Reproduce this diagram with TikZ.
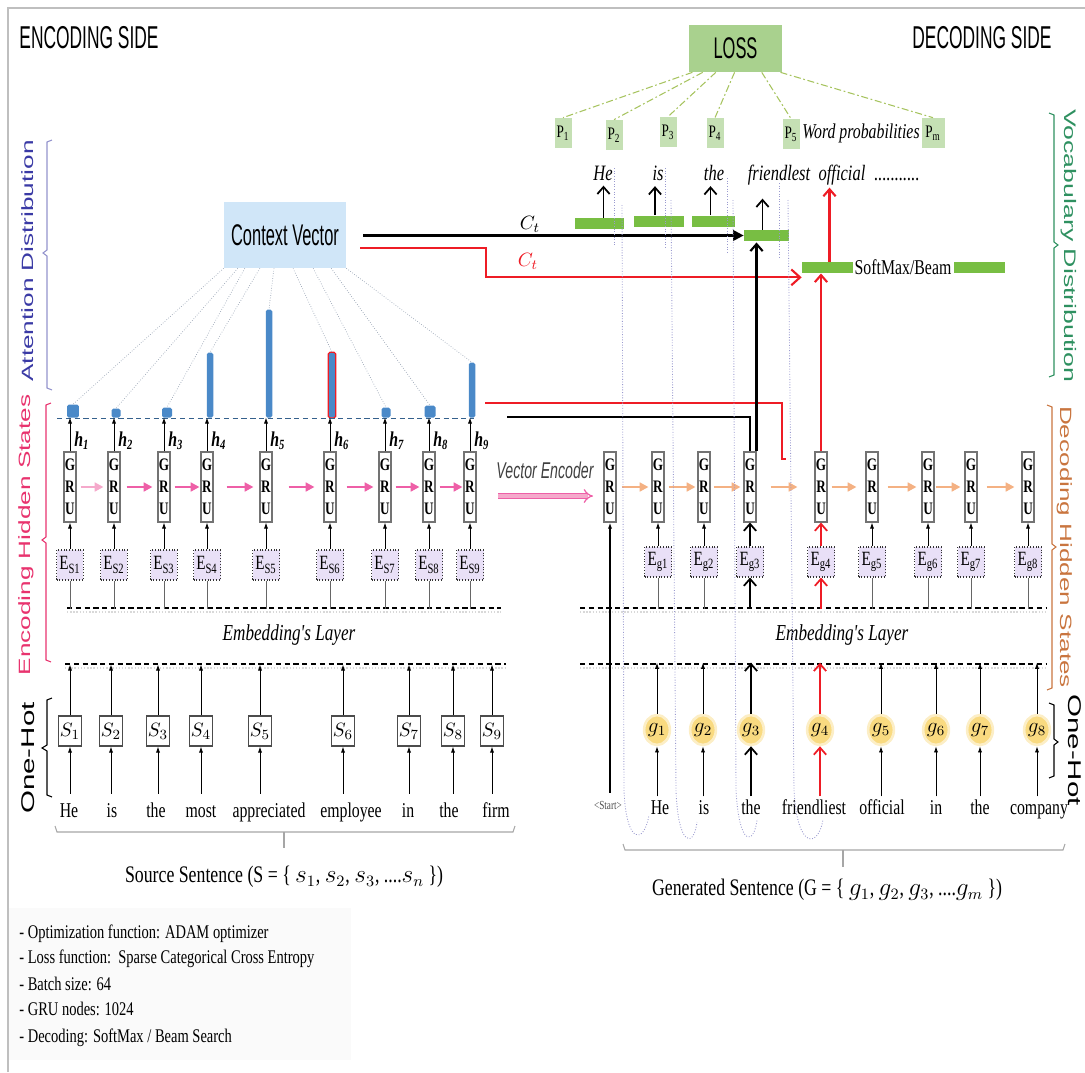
\documentclass[tikz,border=0pt]{standalone}
\usepackage{fontspec}
\setmainfont{Liberation Serif}
\newfontfamily\sr[FakeStretch=0.75]{Liberation Serif}
\newfontfamily\sn[FakeStretch=0.62]{Liberation Sans}
\newfontfamily\snc[FakeStretch=0.55]{Liberation Sans}
\newfontfamily\sw[FakeStretch=1.6]{Liberation Sans}
\usetikzlibrary{arrows.meta,shapes.geometric,calc}
\newcommand{\fsz}[1]{\fontsize{#1}{#1}\selectfont}

\definecolor{lossg}{HTML}{A9D18E}
\definecolor{pg}{HTML}{C5E0B4}
\definecolor{barg}{HTML}{78BE43}
\definecolor{cvb}{HTML}{D0E6F8}
\definecolor{attb}{HTML}{4A89C8}
\definecolor{eboxc}{HTML}{E9E0F7}
\definecolor{gy}{HTML}{F9DA80}
\definecolor{pinkA}{HTML}{EE5FA7}
\definecolor{pinkL}{HTML}{F5A9CB}
\definecolor{orA}{HTML}{F4B183}
\definecolor{lossc}{HTML}{A6C35E}
\definecolor{loopc}{HTML}{9A9ACF}
\definecolor{fanc}{HTML}{9AA5B5}
\definecolor{attT}{HTML}{3A3AA5}
\definecolor{encT}{HTML}{E8336E}
\definecolor{decT}{HTML}{C9753F}
\definecolor{vocT}{HTML}{2E9060}
\definecolor{redA}{HTML}{EE1C25}

\begin{document}
\begin{tikzpicture}[x=0.02cm,y=-0.02cm,
  every node/.style={inner sep=0pt},
  gru/.style={draw=black!55,line width=0.6pt,fill=white,minimum width=0.24cm,minimum height=1.4cm,align=center,font=\sr\bfseries\fontsize{10}{12.5}\selectfont},
  ebox/.style={draw=black!80,densely dotted,line width=0.6pt,fill=eboxc,minimum width=0.54cm,minimum height=0.6cm,font=\sr\fsz{11.5}},
  sbox/.style={draw=black!70,line width=0.6pt,fill=white,minimum width=0.46cm,minimum height=0.6cm,font=\fsz{11}},
  gcirc/.style={ellipse,fill=gy,draw=gy!45,line width=1.5pt,minimum width=0.44cm,minimum height=0.6cm,font=\fsz{12}},
  pbox/.style={fill=pg,minimum width=0.34cm,minimum height=0.6cm,font=\sr\fsz{10}},
  gbar/.style={fill=barg,minimum height=0.22cm},
  att/.style={fill=attb,rounded corners=1pt,anchor=south},
  wordtxt/.style={font=\sr\fsz{12},anchor=base},
  owordtxt/.style={font=\sr\itshape\fsz{12.5},anchor=base},
  thinarr/.style={-{Latex[length=3.5pt,width=2.4pt]},line width=0.5pt},
  plainln/.style={line width=0.4pt,draw=black!60},
  bigblk/.style={-{Straight Barb[length=4pt,width=7pt]},line width=1pt},
  bigred/.style={bigblk,draw=redA},
  parr/.style={-{Triangle[length=5pt,width=5pt]},line width=1.4pt},
  emb/.style={densely dashed,line width=0.6pt},
  embshadow/.style={densely dotted,line width=0.8pt,draw=black!15},
  fan/.style={densely dotted,line width=0.4pt,draw=fanc},
  lossdash/.style={dash pattern=on 4pt off 1.5pt on 1pt off 1.5pt,line width=0.6pt,draw=lossc},
  loopln/.style={densely dotted,line width=0.5pt,draw=loopc},
  brk/.style={line width=0.6pt},
]
\useasboundingbox (0,0) rectangle (1085,1072);
\draw[black!25,line width=1pt] (8,1072) -- (8,8) -- (1085,8);

% ---------- titles and side labels ----------
\node[font=\snc\fsz{18}] (titleEnc) at (89,38) {ENCODING SIDE};
\node[font=\snc\fsz{18}] (titleDec) at (982,38) {DECODING SIDE};

\node[font=\sw\fsz{9.3},text=attT,rotate=90] (lAtt) at (28,261) {Attention Distribution};
\node[font=\sw\fsz{9.3},text=encT,rotate=90] (lEnc) at (26,535) {Encoding Hidden States};
\node[font=\sw\fsz{10.5},rotate=90] (lOH1) at (28,758) {One-Hot};
\node[font=\sw\fsz{9.5},text=vocT,rotate=-90] (lVoc) at (1069,246) {Vocabulary Distribution};
\node[font=\sw\fsz{9.3},text=decT,rotate=-90] (lDec) at (1065,547) {Decoding Hidden States};
\node[font=\sw\fsz{10.5},rotate=-90] (lOH2) at (1075,750) {One-Hot};

% brackets
\draw[brk,draw=attT!55] (52,140) -- (47,142) -- (47,250) -- (43,253) -- (47,256) -- (47,388) -- (52,390);
\draw[brk,draw=encT] (51,403) -- (46,405) -- (46,537) -- (42,540) -- (46,543) -- (46,660) -- (51,662);
\draw[brk] (52,698) -- (47,700) -- (47,745) -- (42,748) -- (47,751) -- (47,795) -- (52,797);
\draw[brk,draw=vocT] (1049,113) -- (1054,115) -- (1054,242) -- (1058,245) -- (1054,248) -- (1054,375) -- (1049,377);
\draw[brk,draw=decT] (1047,405) -- (1052,407) -- (1052,544) -- (1056,547) -- (1052,550) -- (1052,688) -- (1047,690);
\draw[brk] (1049,703) -- (1054,705) -- (1054,739) -- (1058,742) -- (1054,745) -- (1054,776) -- (1049,778);
\draw[brk,draw=black!35] (55,826) -- (57,832) -- (513,832) -- (515,826);
\draw[brk,draw=black!35] (284,832) -- (284,848);
\draw[brk,draw=black!35] (623,844) -- (625,850) -- (1063,850) -- (1065,844);
\draw[brk,draw=black!35] (843,850) -- (843,867);

% ---------- encoder ----------
\node[fill=cvb,minimum width=2.44cm,minimum height=1.32cm,font=\snc\fsz{17}] (cv) at (285,235) {Context Vector};

\coordinate (attl) at (57,418);  \coordinate (attr) at (474,418);
\coordinate (etopL) at (67,608); \coordinate (etopR) at (501,608);
\coordinate (elowL) at (65,664); \coordinate (elowR) at (506,664);

\draw[embshadow] ($(etopL)+(0,4)$) -- ($(etopR)+(0,4)$);
\draw[embshadow] ($(elowL)+(0,4)$) -- ($(elowR)+(0,4)$);
\draw[emb] (etopL) -- (etopR);
\draw[emb] (elowL) -- (elowR);
\node[font=\sr\itshape\fsz{13}] (embE) at (289,635) {Embedding's Layer};

\foreach \ii/\xx/\ww/\hh in {1/73/0.24/0.26, 2/116/0.18/0.18, 3/167/0.2/0.2, 4/210/0.13/1.3, 5/269/0.13/2.16, 6/332/0.14/1.3, 7/386/0.18/0.2, 8/430/0.22/0.24, 9/472/0.13/1.1}
  \node[att,minimum width=\ww cm,minimum height=\hh cm] (a\ii) at (\xx,418) {};
\draw[redA,line width=0.7pt,rounded corners=1pt] (a6.south west) rectangle (a6.north east);
\draw[densely dashed,draw=attb!70!black,line width=0.5pt] (attl) -- (attr);

\foreach \ii/\tt in {1/0, 2/0.115, 3/0.172, 4/0.295, 5/0.41, 6/0.566, 7/0.73, 8/0.877, 9/1}
  \draw[fan] ($(cv.south west)!\tt!(cv.south east)$) -- (a\ii.north);

% recurrent cells, embeddings and one-hot inputs
\foreach \ii/\xg in {1/70, 2/114, 3/164, 4/207, 5/266, 6/330, 7/385, 8/429, 9/470}{
  \node[gru] (eg\ii) at (\xg,487) {G\\R\\U};
  \node[ebox] (es\ii) at (\xg,565) {E\textsubscript{S\ii}};
}
\foreach \ii/\xs/\xw/\wt in {1/70/69/He, 2/111/112/is, 3/158/156/the, 4/201/201/most, 5/260/269/appreciated, 6/343/351/employee, 7/409/408/in, 8/453/449/the, 9/492/496/firm}{
  \node[sbox] (s\ii) at (\xs,731) {$S_{\ii}$};
  \node[wordtxt] (w\ii) at (\xw,817) {\wt};
}
\foreach \ii in {1,...,9} \draw[thinarr] (es\ii.north) -- (eg\ii.south);
\foreach \ii in {1,...,9} \draw[plainln] (es\ii.south) -- ++(0,28);
\foreach \ii in {1,...,9} \draw[thinarr] (s\ii.north) -- ++(0,-51);
\foreach \ii in {1,...,9} \draw[thinarr] ($(s\ii.south)+(0,47)$) -- (s\ii.south);
\foreach \ii in {1,...,9} \draw[thinarr] (eg\ii.north) -- ++(0,-34);
\foreach \ii in {1,...,9} \node[font=\sr\bfseries\itshape\fsz{12},anchor=west] (h\ii) at ($(eg\ii.north)+(4,-11)$) {h\textsubscript{\ii}};

\foreach \aa/\bb/\ss/\ee/\cc in {1/2/4/4/pinkL, 2/3/6/5/pinkA, 3/4/4/1/pinkA, 4/5/13/6/pinkA, 5/6/16/9/pinkA, 6/7/10/5/pinkA, 7/8/4/3/pinkA, 8/9/4/1/pinkA}
  \draw[parr,draw=\cc] ($(eg\aa.east)+(\ss,0)$) -- ($(eg\bb.west)-(\ee,0)$);

% ---------- hand-over to the decoder ----------
\node[font=\sn\itshape\fsz{13},text=black!75] (vecT) at (545,470) {Vector Encoder};
\coordinate (ve0) at (498,496); \coordinate (ve1) at (593,496);
\draw[draw=pinkA,line width=0.7pt,double=pinkL,double distance=2pt,-{Implies}] (ve0) -- (ve1);

% ---------- decoder ----------
\coordinate (dtopL) at (580,608); \coordinate (dtopR) at (1047,608);
\coordinate (dlowL) at (580,664); \coordinate (dlowR) at (1047,664);

\draw[embshadow] ($(dtopL)+(0,4)$) -- ($(dtopR)+(0,4)$);
\draw[embshadow] ($(dlowL)+(0,4)$) -- ($(dlowR)+(0,4)$);
\draw[emb] (dtopL) -- (dtopR);
\draw[emb] (dlowL) -- (dlowR);
\node[font=\sr\itshape\fsz{13}] (embD) at (842,635) {Embedding's Layer};

\node[gru] (d0) at (610,487) {G\\R\\U};
\node[font=\sr\fsz{7},text=black!70] (dw0) at (608,805) {\textless Start\textgreater};
\draw[thinarr,line width=0.7pt] ($(d0.south)+(0,270)$) -- (d0.south);

\foreach \ii/\xg/\xc in {1/658/657, 2/704/703, 3/750/751, 4/821/820, 5/872/881, 6/928/936, 7/971/980, 8/1028/1037}{
  \node[gru] (d\ii) at (\xg,487) {G\\R\\U};
  \node[ebox] (de\ii) at (\xg,562) {E\textsubscript{g\ii}};
  \node[gcirc] (gc\ii) at (\xc,730) {$g_{\ii}$};
}
\foreach \ii/\xw/\wt in {1/660/He, 2/704/is, 3/751/the, 4/814/friendliest, 5/882/official, 6/936/in, 7/980/the, 8/1039/company}
  \node[wordtxt] (dw\ii) at (\xw,814) {\wt};

\foreach \ii in {1,2,5,6,7,8} \draw[thinarr] (de\ii.north) -- (d\ii.south);
\foreach \ii in {1,2,5,6,7,8} \draw[plainln] ($(de\ii.south)+(0,31)$) -- (de\ii.south);
\foreach \ii in {1,2,5,6,7,8} \draw[thinarr] (gc\ii.north) -- ++(0,-51);
\foreach \ii in {1,2,5,6,7,8} \draw[thinarr] ($(gc\ii.south)+(0,50)$) -- (gc\ii.south);
% the word being predicted (black) and the next one (red)
\draw[bigblk] (de3.north) -- (d3.south);
\draw[bigblk] ($(de3.south)+(0,31)$) -- (de3.south);
\draw[bigblk] (gc3.north) -- ++(0,-51);
\draw[bigblk] ($(gc3.south)+(0,50)$) -- (gc3.south);
\draw[bigred] (de4.north) -- (d4.south);
\draw[bigred] ($(de4.south)+(0,31)$) -- (de4.south);
\draw[bigred] (gc4.north) -- ++(0,-51);
\draw[bigred] ($(gc4.south)+(0,50)$) -- (gc4.south);

\foreach \aa/\bb/\ss/\ee in {0/1/5/3, 1/2/4/2, 2/3/3/3, 3/4/14/17, 4/5/4/9, 5/6/9/5, 6/7/1/4, 7/8/9/7}
  \draw[parr,draw=orA] ($(d\aa.east)+(\ss,0)$) -- ($(d\bb.west)-(\ee,0)$);

% ---------- output side ----------
\node[fill=lossg,minimum width=1.86cm,minimum height=0.94cm,font=\snc\fsz{17}] (loss) at (735.5,48.5) {LOSS};

\node[pbox] (p1) at (563,133) {P\textsubscript{1}};
\node[pbox] (p2) at (614,135) {P\textsubscript{2}};
\node[pbox] (p3) at (668,132) {P\textsubscript{3}};
\node[pbox] (p4) at (715,133) {P\textsubscript{4}};
\node[pbox] (p5) at (791,134) {P\textsubscript{5}};
\node[pbox,minimum width=0.46cm] (pm) at (933,133) {P\textsubscript{m}};
\node[font=\sr\itshape\fsz{12}] (wprob) at (861,133) {Word probabilities};

\foreach \pp/\tt in {p1/0.04, p2/0.15, p3/0.29, p4/0.49, p5/0.78, pm/0.98}
  \draw[lossdash] ($(loss.south west)!\tt!(loss.south east)$) -- (\pp.north);

\node[owordtxt] (ow1) at (603,180) {He};
\node[owordtxt] (ow2) at (658,180) {is};
\node[owordtxt] (ow3) at (714,180) {the};
\node[owordtxt] (ow4) at (779,180) {friendlest};
\node[owordtxt] (ow5) at (842,180) {official};
\node[owordtxt] (ow6) at (897,180) {...........};

\node[gbar,minimum width=0.98cm] (o1) at (599.5,223.5) {};
\node[gbar,minimum width=1.0cm] (o2) at (659,221) {};
\node[gbar,minimum width=0.86cm] (o3) at (713.5,221) {};
\node[gbar,minimum width=0.9cm] (o4) at (766.5,235.5) {};
\node[gbar,minimum width=1.02cm] (sm) at (827.5,267.5) {};
\node[gbar,minimum width=1.02cm] (sm2) at (979.5,267.5) {};
\node[font=\sr\fsz{12}] (smT) at (903,267) {SoftMax/Beam};

\draw[bigblk] ($(o1.north)+(4,0)$) -- ++(0,-32);
\draw[bigblk] ($(o2.north)+(-4,0)$) -- ++(0,-29);
\draw[bigblk] ($(o3.north)+(-3,0)$) -- ++(0,-29);
\draw[bigblk] ($(o4.north)+(-4,0)$) -- ++(0,-31);

% context vector feeds
\coordinate (cb) at (363,235.5);
\draw[line width=1.2pt,-{Triangle[length=6pt,width=6pt]}] (cb) -- (o4.west);
\node[font=\fsz{11}] (ct1) at (530,224) {$C_t$};
\coordinate (cr) at ($(cv.east)+(14,13)$);
\coordinate (rEnd) at ($(sm.south west)+(0,4)$);
\draw[redA,line width=1.2pt,-{Straight Barb[length=5pt,width=9pt]}] (cr) -- ++(126,0) |- (rEnd);
\node[font=\fsz{11},text=redA] (ct2) at (528,261) {$C_t$};

% encoder states into the decoder
\coordinate (kr) at (485,403); \coordinate (krEnd) at (782,459);
\draw[redA,line width=1.2pt] (kr) -| (krEnd) -- ++(4,0);
\coordinate (kb) at (507,417);
\draw[line width=1.2pt] (kb) -| (d3.north);

\draw[bigblk,line width=1.2pt] (d3.north east) -- ++(0,-209);
\draw[bigred,line width=1.2pt] (d4.north) -- ++(0,-178);
\coordinate (sa) at ($(sm.north)+(2,0)$);
\draw[bigred,line width=1.2pt] (sa) -- ++(0,-74);

% feedback loops from predicted words to the next input
\draw[loopln] (614,168) -- (614,247);
\draw[loopln] (622,205) -- (624,790) .. controls (626,845) and (644,845) .. (649,815);
\draw[loopln] (665,168) -- (665,248);
\draw[loopln] (671,200) -- (676,790) .. controls (678,848) and (694,848) .. (697,822);
\draw[loopln] (727,178) -- (727,253);
\draw[loopln] (733,200) -- (736,790) .. controls (739,848) and (754,845) .. (757,820);
\draw[loopln] (779,183) -- (779,257);
\draw[loopln] (788,200) -- (794,790) .. controls (797,850) and (818,848) .. (823,820);

% ---------- bottom captions ----------
\node[font=\sr\fsz{13.5}] (srcS) at (284,877) {Source Sentence (S = \{ $s_1$, $s_2$, $s_3$, ....$s_n$ \})};
\node[font=\sr\fsz{13.5}] (genS) at (827,890) {Generated Sentence (G = \{ $g_1$, $g_2$, $g_3$, ....$g_m$ \})};

\fill[black!2] (9,908) rectangle (351,1060);
\node[font=\sr\fsz{11},anchor=base west] (info1) at (19,938) {- Optimization function: ADAM optimizer};
\node[font=\sr\fsz{11},anchor=base west] (info2) at (19,963) {- Loss function:\ \ Sparse Categorical Cross Entropy};
\node[font=\sr\fsz{11},anchor=base west] (info3) at (19,990) {- Batch size: 64};
\node[font=\sr\fsz{11},anchor=base west] (info4) at (19,1015) {- GRU nodes: 1024};
\node[font=\sr\fsz{11},anchor=base west] (info5) at (19,1042) {- Decoding: SoftMax / Beam Search};
\end{tikzpicture}
\end{document}
